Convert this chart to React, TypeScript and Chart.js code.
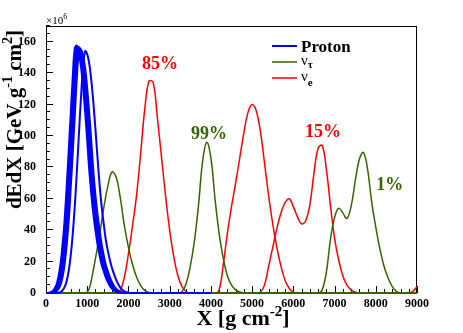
import React, { useEffect, useRef } from "react";
import { Chart, registerables } from "chart.js";

Chart.register(...registerables);

// ---------- data ----------
const X_MIN = 0;
const X_MAX = 9000;
const Y_MIN = 0;
const Y_MAX = 170;
const X_TICK_STEP = 1000;
const Y_TICK_STEP = 20;

// Proton showers (common depth grid, g/cm^2)
const PROTON_X = [0, 100, 150, 200, 250, 300, 350, 400, 450, 500, 550, 600, 650, 700, 750, 800, 850, 900, 950, 1000, 1050, 1100, 1150, 1200, 1250, 1300, 1350, 1400, 1450, 1500, 1550, 1600, 1650, 1700, 1750, 1800, 1850, 1900, 1950, 2000, 2050, 2100, 4000];
const PROTON_A = [0, 0.3, 1, 2.5, 5, 10, 18, 30, 46, 67, 90, 114, 138, 156, 157.5, 152.5, 144, 131, 115, 97, 78, 63, 50, 40, 31, 24, 18, 14, 10, 7, 4.5, 2.8, 1.5, 0.8, 0.4, 0.1, 0, 0, 0, 0, 0, 0, 0];
const PROTON_B = [0, 0.1, 0.6, 1.7, 3.7, 7.5, 14, 24, 38, 56, 78, 102, 126, 147, 157, 155, 148, 137, 123, 106, 87, 70, 56, 45, 35, 27, 21, 16, 12, 8.5, 5.7, 3.6, 2.1, 1.1, 0.6, 0.2, 0, 0, 0, 0, 0, 0, 0];
const PROTON_C = [0, 0, 0.3, 1, 2.5, 5, 10, 18, 30, 46, 67, 90, 114, 138, 155, 156.5, 152, 144, 131, 115, 97, 78, 63, 50, 40, 31, 24, 18, 14, 10, 7, 4.5, 2.8, 1.5, 0.8, 0.4, 0.1, 0, 0, 0, 0, 0, 0];
const PROTON_D = [0, 0, 0.2, 0.6, 1.7, 3.7, 7.5, 14, 24, 38, 56, 78, 102, 126, 147, 156, 154.5, 148, 137, 123, 106, 87, 70, 56, 45, 35, 27, 21, 16, 12, 8.5, 5.7, 3.6, 2.1, 1.1, 0.6, 0.2, 0, 0, 0, 0, 0, 0];
const PROTON_E = [0, 0, 0.1, 0.3, 1, 2.5, 5, 10, 18, 30, 46, 67, 90, 114, 138, 153.5, 155, 150.5, 143, 130, 114, 96, 77, 62, 50, 40, 31, 24, 18, 14, 10, 7, 4.5, 2.8, 1.5, 0.8, 0.4, 0.1, 0, 0, 0, 0, 0];
const PROTON_F = [0, 0, 0, 0, 0, 0.2, 0.6, 1.7, 3.7, 7.5, 14, 24, 38, 56, 78, 102, 125, 144, 154, 152, 146, 135, 121, 104, 86, 69, 55, 44, 34, 27, 21, 16, 12, 8.5, 5.7, 3.6, 2.1, 1.1, 0.6, 0.2, 0, 0, 0];

// nu_tau showers
const TAU1_X = [0, 900, 1000, 1050, 1100, 1200, 1300, 1400, 1500, 1600, 1700, 1800, 1900, 2000, 2100, 2200, 2300, 2400, 2500, 2600, 9000];
const TAU1_Y = [0, 0, 0.6, 3, 8, 22, 37, 54, 68, 77, 74, 61, 43, 29, 18, 10, 4.5, 1.5, 0.3, 0, 0];
const TAU2_X = [0, 3200, 3300, 3400, 3500, 3600, 3700, 3800, 3900, 4000, 4100, 4200, 4300, 4400, 4500, 4600, 4700, 4800, 9000];
const TAU2_Y = [0, 0, 0.8, 6, 17, 33, 56, 84, 96, 86, 60, 38, 22, 11, 5, 2, 0.6, 0.1, 0];
const TAU3_X = [0, 6600, 6700, 6800, 6900, 7000, 7100, 7200, 7300, 7400, 7500, 7600, 7700, 7800, 7900, 8000, 8100, 8200, 8300, 8400, 8500, 8600, 9000];
const TAU3_Y = [0, 0, 2, 13, 34, 48, 54, 51, 47.5, 55, 71, 85, 89.5, 79, 58, 42, 28, 17, 9.5, 4, 1, 0, 0];

// nu_e showers
const E1_X = [0, 1700, 1800, 1900, 2000, 2100, 2200, 2300, 2400, 2500, 2600, 2700, 2800, 2900, 3000, 3100, 3200, 3300, 3400, 3500, 9000];
const E1_Y = [0, 0, 1.5, 10, 25, 43, 63, 90, 118, 135, 134, 112, 87, 62, 40, 23, 11, 4, 0.8, 0, 0];
const E2_X = [0, 4100, 4200, 4300, 4400, 4500, 4600, 4700, 4800, 4900, 5000, 5100, 5200, 5300, 5400, 5500, 5600, 5700, 5800, 5900, 6000, 6100, 9000];
const E2_Y = [0, 0, 2, 18, 38, 55, 70, 86, 102, 115, 120, 116, 103, 83, 62, 44, 29, 17, 8, 3, 0.5, 0, 0];
const E3_X = [0, 5100, 5200, 5300, 5400, 5500, 5600, 5700, 5800, 5900, 6000, 6100, 6200, 6300, 6400, 6500, 6600, 6700, 6800, 6900, 7000, 7100, 7200, 7300, 7400, 7500, 7600, 9000];
const E3_Y = [0, 0, 0.5, 5, 17, 29, 41, 51, 57.5, 60, 55, 48.5, 44, 46, 56, 76, 92, 94, 79, 56, 35, 21, 11, 5, 2, 0.5, 0, 0];
const E4_X = [0, 8800, 8900, 9000];
const E4_Y = [0, 0, 1, 4];

// percentage annotations (data coordinates)
const NOTE_TEXT = ["85%", "99%", "15%", "1%"];
const NOTE_X = [2765, 3954, 6720, 8338];
const NOTE_Y = [145.5, 101.1, 102.2, 68.4];
const NOTE_KIND = ["e", "tau", "e", "tau"];

// ---------- styles ----------
const BLUE = "#0000ff";
const GREEN = "#336600";
const RED = "#ff0000";
const SERIF = '"Liberation Serif", "Times New Roman", serif';

type Part = { t: string; font: string; dy: number };

function partsWidth(ctx: CanvasRenderingContext2D, parts: Part[]) {
  let w = 0;
  for (const p of parts) {
    ctx.font = p.font;
    w += ctx.measureText(p.t).width;
  }
  return w;
}

function drawParts(ctx: CanvasRenderingContext2D, parts: Part[], x: number, y: number) {
  let cx = x;
  for (const p of parts) {
    ctx.font = p.font;
    ctx.fillText(p.t, cx, y + p.dy);
    cx += ctx.measureText(p.t).width;
  }
}

const decorPlugin = {
  id: "decor",
  beforeDatasetsDraw(chart: any) {
    const { ctx, chartArea: a, scales } = chart;
    const xs = scales.x;
    const ys = scales.y;
    ctx.save();
    ctx.strokeStyle = "#000";
    ctx.lineWidth = 1;
    ctx.strokeRect(a.left + 0.5, a.top + 0.5, a.right - a.left - 1, a.bottom - a.top - 1);
    ctx.beginPath();
    for (let v = Y_MIN; v <= Y_MAX; v += Y_TICK_STEP / 4) {
      const py = Math.round(ys.getPixelForValue(v)) - 0.5;
      const len = v % Y_TICK_STEP === 0 ? 7 : 4;
      ctx.moveTo(a.left, py);
      ctx.lineTo(a.left + len, py);
    }
    for (let v = X_MIN; v <= X_MAX; v += X_TICK_STEP / 5) {
      const px = Math.round(xs.getPixelForValue(v)) + 0.5;
      const len = v % X_TICK_STEP === 0 ? 7 : 4;
      ctx.moveTo(px, a.bottom);
      ctx.lineTo(px, a.bottom - len);
    }
    ctx.stroke();
    ctx.restore();
  },
  afterDraw(chart: any) {
    const { ctx, scales } = chart;
    const xs = scales.x;
    const ys = scales.y;
    ctx.save();
    ctx.fillStyle = "#000";
    ctx.textAlign = "left";
    ctx.textBaseline = "alphabetic";

    // x10^6
    drawParts(ctx, [
      { t: "\u00d710", font: `11px ${SERIF}`, dy: 0 },
      { t: "6", font: `8px ${SERIF}`, dy: -5 },
    ], 46, 24);

    // x title
    const xt: Part[] = [
      { t: "X [g cm", font: `bold 22px ${SERIF}`, dy: 0 },
      { t: "-2", font: `bold 15px ${SERIF}`, dy: -9 },
      { t: "]", font: `bold 22px ${SERIF}`, dy: 0 },
    ];
    const xw = partsWidth(ctx, xt);
    drawParts(ctx, xt, 243 - xw / 2, 325);

    // y title (rotated, ending at top of axis)
    const yt: Part[] = [
      { t: "dEdX [GeV g", font: `bold 21px ${SERIF}`, dy: 0 },
      { t: "-1", font: `bold 14px ${SERIF}`, dy: -9 },
      { t: " cm", font: `bold 21px ${SERIF}`, dy: 0 },
      { t: "2", font: `bold 14px ${SERIF}`, dy: -9 },
      { t: "]", font: `bold 21px ${SERIF}`, dy: 0 },
    ];
    const yw = partsWidth(ctx, yt);
    ctx.save();
    ctx.translate(21, 30 + yw);
    ctx.rotate(-Math.PI / 2);
    drawParts(ctx, yt, 0, 0);
    ctx.restore();

    // legend
    const legendRows = [
      { color: BLUE, width: 2, y: 46 },
      { color: GREEN, width: 1.5, y: 62 },
      { color: RED, width: 1.5, y: 78 },
    ];
    for (const r of legendRows) {
      ctx.strokeStyle = r.color;
      ctx.lineWidth = r.width;
      ctx.beginPath();
      ctx.moveTo(272, r.y);
      ctx.lineTo(297, r.y);
      ctx.stroke();
    }
    ctx.fillStyle = "#000";
    ctx.font = `bold 17px ${SERIF}`;
    ctx.fillText("Proton", 301, 51.5);
    drawParts(ctx, [
      { t: "\u03bd", font: `15px ${SERIF}`, dy: 0 },
      { t: "\u03c4", font: `bold 11px ${SERIF}`, dy: 3.5 },
    ], 301, 64.5);
    drawParts(ctx, [
      { t: "\u03bd", font: `15px ${SERIF}`, dy: 0 },
      { t: "e", font: `bold 11px ${SERIF}`, dy: 4.5 },
    ], 301, 81);

    // percentage notes
    ctx.textAlign = "center";
    ctx.textBaseline = "middle";
    ctx.font = `bold 18px ${SERIF}`;
    for (let i = 0; i < NOTE_TEXT.length; i++) {
      ctx.fillStyle = NOTE_KIND[i] === "e" ? RED : GREEN;
      ctx.fillText(NOTE_TEXT[i], xs.getPixelForValue(NOTE_X[i]), ys.getPixelForValue(NOTE_Y[i]));
    }
    ctx.restore();
  },
};

function pts(xs: number[], ys: number[]) {
  return xs.map((x, i) => ({ x, y: ys[i] }));
}

export default function App() {
  const ref = useRef<HTMLCanvasElement | null>(null);

  useEffect(() => {
    if (!ref.current) return;
    const common = {
      showLine: true,
      pointRadius: 0,
      pointHoverRadius: 0,
      fill: false,
      tension: 0.4,
      clip: false as any,
    };
    const protons = [PROTON_A, PROTON_B, PROTON_C, PROTON_D, PROTON_E, PROTON_F].map((ys) => ({
      ...common,
      data: pts(PROTON_X, ys),
      borderColor: BLUE,
      borderWidth: 2,
    }));
    const taus = [
      [TAU1_X, TAU1_Y],
      [TAU2_X, TAU2_Y],
      [TAU3_X, TAU3_Y],
    ].map(([xs, ys]) => ({ ...common, data: pts(xs, ys), borderColor: GREEN, borderWidth: 1.5 }));
    const es = [
      [E1_X, E1_Y],
      [E2_X, E2_Y],
      [E3_X, E3_Y],
      [E4_X, E4_Y],
    ].map(([xs, ys]) => ({ ...common, data: pts(xs, ys), borderColor: RED, borderWidth: 1.5 }));

    const chart = new Chart(ref.current, {
      type: "scatter",
      data: { datasets: [...protons, ...taus, ...es] as any },
      options: {
        animation: false,
        responsive: false,
        layout: { padding: { left: 0, top: 26, right: 46, bottom: 0 } },
        plugins: { legend: { display: false }, tooltip: { enabled: false } },
        events: [],
        scales: {
          x: {
            type: "linear",
            min: X_MIN,
            max: X_MAX,
            grid: { display: false },
            border: { display: false },
            ticks: {
              stepSize: X_TICK_STEP,
              autoSkip: false,
              maxRotation: 0,
              padding: -4,
              color: "#000",
              font: { family: SERIF, size: 12, weight: "bold" },
              callback: (v: any) => String(v),
            },
            afterFit: (s: any) => {
              s.height = 40;
            },
          },
          y: {
            type: "linear",
            min: Y_MIN,
            max: Y_MAX,
            grid: { display: false },
            border: { display: false },
            ticks: {
              stepSize: Y_TICK_STEP,
              includeBounds: false,
              padding: 2,
              color: "#000",
              font: { family: SERIF, size: 12, weight: "bold" },
              callback: (v: any) => String(v),
            },
            afterFit: (s: any) => {
              s.width = 46;
            },
          },
        },
      } as any,
      plugins: [decorPlugin],
    });
    return () => chart.destroy();
  }, []);

  return (
    <div style={{ position: "fixed", left: 0, top: 0, width: 463, height: 333, background: "#fff" }}>
      <canvas ref={ref} width={463} height={333} style={{ display: "block" }} />
    </div>
  );
}
